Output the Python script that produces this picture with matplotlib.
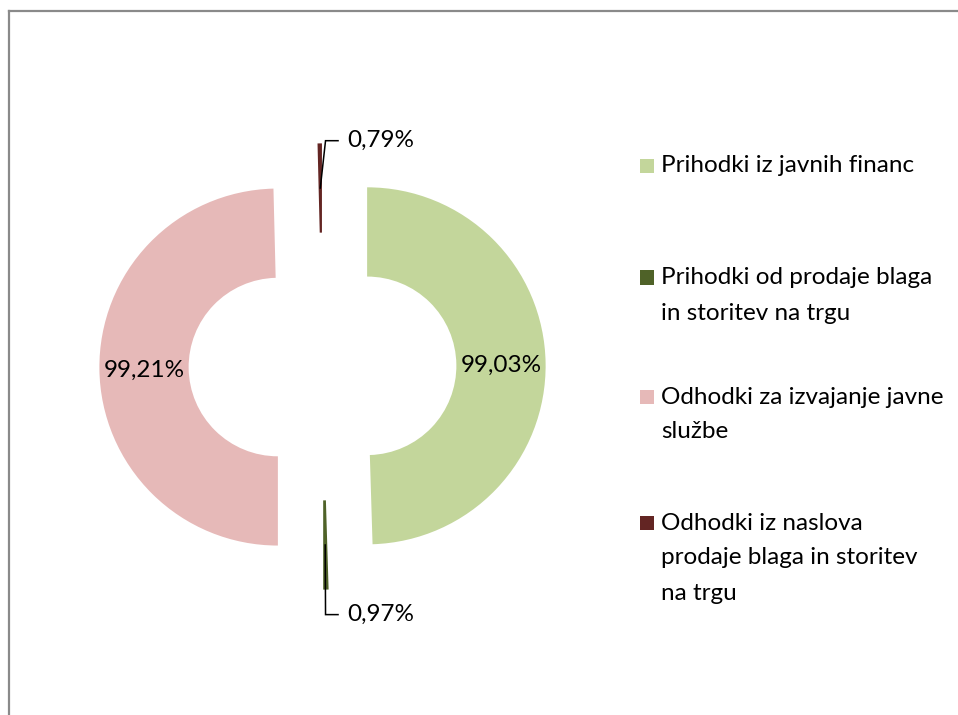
import numpy as np
import matplotlib.pyplot as plt
from matplotlib.patches import Rectangle
from matplotlib.lines import Line2D

# data
categories = [
    'Prihodki iz javnih financ',
    'Prihodki od prodaje blaga\nin storitev na trgu',
    'Odhodki za izvajanje javne\nslužbe',
    'Odhodki iz naslova\nprodaje blaga in storitev\nna trgu',
]
shares = [99.03, 0.97, 99.21, 0.79]
share_labels = ['99,03%', '0,97%', '99,21%', '0,79%']
colors = ['#C3D69B', '#4F6228', '#E6B9B8', '#632523']

W, H = 958, 715
CX, CY, R = 322.5, 366.5, 178.5   # pie centre / radius in pixels
FONT = 'Lato'
FS = 17.5

fig = plt.figure(figsize=(W / 100, H / 100), dpi=100)
ax = fig.add_axes([0, 0, 1, 1])

wedges, _ = ax.pie(shares, colors=colors, startangle=90, counterclock=False,
                   explode=[0.25] * len(shares), radius=1,
                   wedgeprops=dict(width=0.5, linewidth=0))

ax.set_aspect('auto')
ax.set_xlim(-CX / R, (W - CX) / R)
ax.set_ylim(-(H - CY) / R, CY / R)
ax.axis('off')

# labels outside for the thin slices (x, y of text start, data units)
outside = {1: (0.137, -1.39), 3: (0.137, 1.265)}

for i, w in enumerate(wedges):
    mid = np.deg2rad((w.theta1 + w.theta2) / 2)
    ax_, ay_ = w.center[0] + 0.75 * np.cos(mid), w.center[1] + 0.75 * np.sin(mid)
    if i in outside:
        tx, ty = outside[i]
        ax.plot([ax_, tx - 0.12, tx - 0.05], [ay_, ty, ty],
                color='black', lw=1.1, solid_joinstyle='miter')
        ax.text(tx, ty, share_labels[i], ha='left', va='center',
                fontsize=FS, family=FONT)
    else:
        ax.text(ax_, ay_ - 0.01, share_labels[i], ha='center', va='center',
                fontsize=FS, family=FONT)

# legend, drawn by hand like Excel does it
leg_y = [166, 278, 397, 523]
line_px = 35
for lab, col, y0 in zip(categories, colors, leg_y):
    fig.add_artist(Rectangle((639.5 / W, 1 - (y0 + 7) / H), 14.5 / W, 14.5 / H,
                             transform=fig.transFigure, color=col, lw=0))
    for k, line in enumerate(lab.split('\n')):
        fig.text(661 / W, 1 - (y0 + k * line_px) / H, line, ha='left',
                 va='center', fontsize=FS, family=FONT)

# chart area border
fig.add_artist(Line2D([9 / W, 1], [1 - 11 / H] * 2, transform=fig.transFigure,
                      color='#8a8a8a', lw=1.6))
fig.add_artist(Line2D([9 / W] * 2, [0, 1 - 11 / H], transform=fig.transFigure,
                      color='#8a8a8a', lw=1.6))

fig.savefig('out.png', dpi=100)
